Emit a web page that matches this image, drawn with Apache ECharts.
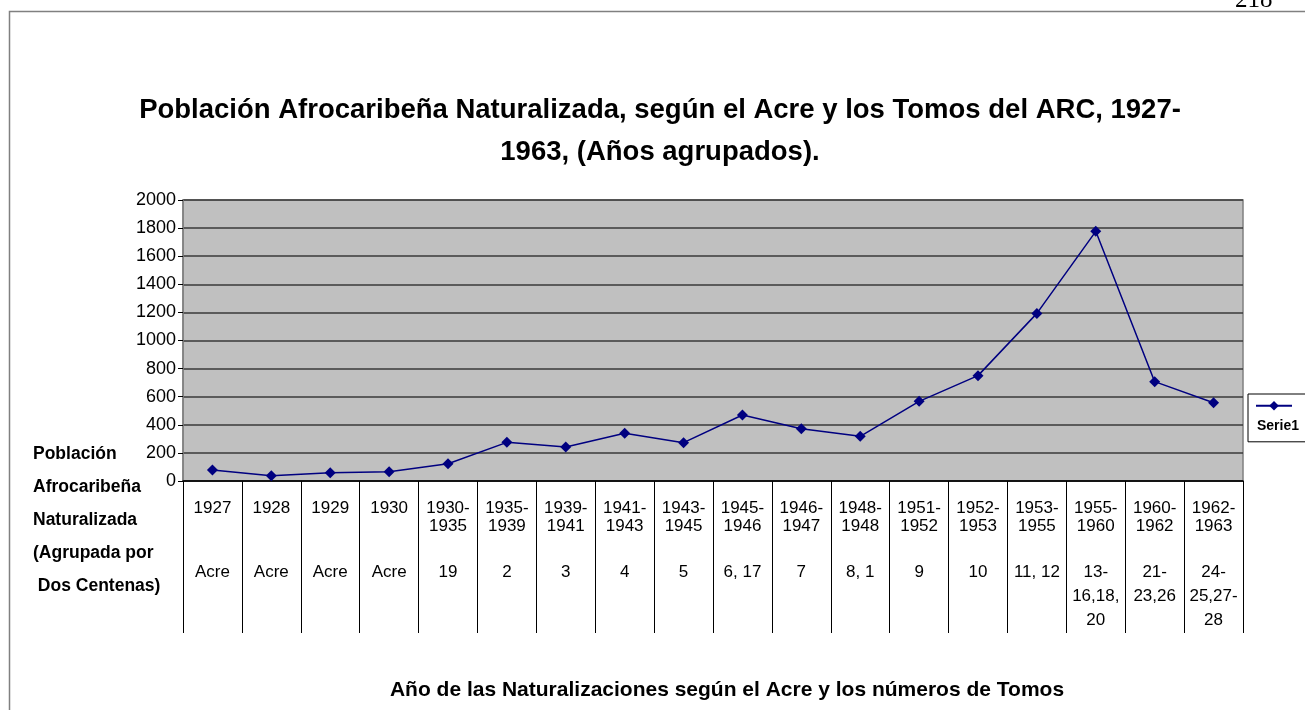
<!DOCTYPE html>
<html>
<head>
<meta charset="utf-8">
<script src="https://cdn.jsdelivr.net/npm/echarts@6/dist/echarts.min.js"></script>
<style>
  html, body { margin: 0; padding: 0; background: #fff; }
  #chart { width: 1305px; height: 710px; }
</style>
</head>
<body>
<div id="chart"></div>
<script>
// periods (years grouped) and ARC volume numbers, one per category
const periods = ['1927', '1928', '1929', '1930', '1930-\n1935', '1935-\n1939', '1939-\n1941',
  '1941-\n1943', '1943-\n1945', '1945-\n1946', '1946-\n1947', '1948-\n1948', '1951-\n1952',
  '1952-\n1953', '1953-\n1955', '1955-\n1960', '1960-\n1962', '1962-\n1963']
const tomos = ['Acre', 'Acre', 'Acre', 'Acre', '19', '2', '3', '4', '5', '6, 17', '7', '8, 1',
  '9', '10', '11, 12', '13-\n16,18,\n20', '21-\n23,26', '24-\n25,27-\n28']
const serie1 = [78, 38, 59, 66, 123, 275, 242, 340, 273, 470, 372, 318, 567, 750, 1193, 1777, 707, 557]

const yTicks = { min: 0, max: 2000, interval: 200 }

const font = 'Liberation Sans, Arial, sans-serif'
const chart = echarts.init(document.getElementById('chart'))

chart.setOption({
  animation: false,
  title: [
    {
      text: 'Población Afrocaribeña Naturalizada, según el Acre y los Tomos del ARC, 1927-\n1963, (Años agrupados).',
      left: 655,
      top: 84,
      textAlign: 'center',
      textStyle: { fontFamily: font, fontSize: 27.5, fontWeight: 'bold', color: '#000', lineHeight: 42, align: 'center' },
    },
    {
      // y axis name, written at left of the axis
      text: 'Población\nAfrocaribeña\nNaturalizada\n(Agrupada por\n Dos Centenas)',
      left: 28,
      top: 433,
      textStyle: { fontFamily: font, fontSize: 17.5, fontWeight: 'bold', color: '#000', lineHeight: 33 },
    },
    {
      text: 'Año de las Naturalizaciones según el Acre y los números de Tomos',
      left: 722,
      top: 675,
      textAlign: 'center',
      textStyle: { fontFamily: font, fontSize: 21, fontWeight: 'bold', color: '#000' },
    },
    {
      // page number, cut by the top edge
      text: '218',
      left: 1230,
      top: -17,
      textStyle: { fontFamily: 'Liberation Serif, Times New Roman, serif', fontSize: 25, fontWeight: 'normal', color: '#000' },
    },
  ],
  graphic: [
    {
      type: 'rect',
      left: 7,
      top: 9,
      shape: { width: 1400, height: 800 },
      style: { fill: 'none', stroke: '#808080', lineWidth: 1.5 },
      silent: true,
    },
  ],
  legend: {
    data: ['Serie1'],
    left: 1248,
    top: 394,
    orient: 'vertical',
    padding: [7, 10, 9, 7],
    itemWidth: 36,
    itemHeight: 12,
    borderColor: '#000',
    borderWidth: 1,
    formatter: (name) => '{t|' + name + '}',
    textStyle: {
      rich: {
        t: {
          fontFamily: font,
          fontSize: 14,
          fontWeight: 'bold',
          color: '#000',
          padding: [20, 0, -20, -40],
        },
      },
    },
  },
  grid: {
    left: 183,
    right: 62,
    top: 200,
    bottom: 229,
    show: true,
    backgroundColor: '#c0c0c0',
    borderColor: '#808080',
    borderWidth: 1.5,
  },
  xAxis: {
    type: 'category',
    data: periods,
    boundaryGap: true,
    axisLine: { lineStyle: { color: '#000', width: 1.5 } },
    axisTick: { show: true, interval: 0, length: 152, lineStyle: { color: '#000', width: 1 } },
    axisLabel: {
      interval: 0,
      margin: 18,
      color: '#000',
      fontFamily: font,
      formatter: (value, i) => {
        const p = periods[i].split('\n')
        if (p.length < 2) p.push(' ')
        const lines = p.map((s) => '{a|' + s + '}')
        lines.push('{g| }')
        tomos[i].split('\n').forEach((s) => lines.push('{b|' + s + '}'))
        return lines.join('\n')
      },
      rich: {
        a: { fontFamily: font, fontSize: 17, lineHeight: 18, color: '#000', align: 'center' },
        g: { fontSize: 10, lineHeight: 25 },
        b: { fontFamily: font, fontSize: 17, lineHeight: 24, color: '#000', align: 'center' },
      },
    },
  },
  yAxis: {
    type: 'value',
    min: yTicks.min,
    max: yTicks.max,
    interval: yTicks.interval,
    axisLine: { show: true, lineStyle: { color: '#808080', width: 1.5 } },
    axisTick: { show: true, length: 5, lineStyle: { color: '#000' } },
    axisLabel: { color: '#000', fontFamily: font, fontSize: 18, margin: 7, formatter: (v) => String(v) },
    splitLine: { show: true, lineStyle: { color: '#3a3a3a', width: 1.5 } },
  },
  series: [
    {
      name: 'Serie1',
      type: 'line',
      data: serie1,
      symbol: 'diamond',
      symbolSize: 11,
      itemStyle: { color: '#000080' },
      lineStyle: { color: '#000080', width: 1.5 },
    },
  ],
})
</script>
</body>
</html>
